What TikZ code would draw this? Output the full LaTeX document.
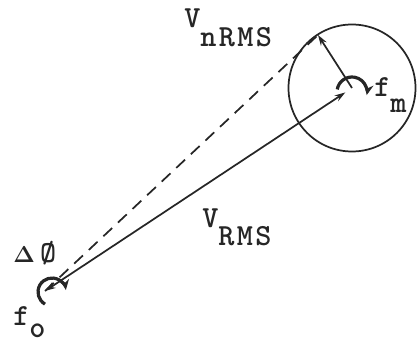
\documentclass[tikz,border=0pt]{standalone}
\usepackage{fontspec}
\newfontfamily\tw{Latin Modern Mono Light}[LetterSpace=8]
\usetikzlibrary{arrows.meta}
\begin{document}
\begin{tikzpicture}[x=0.75pt,y=-0.75pt,
  vec/.style={line width=1.3pt, draw=black!85},
  tip/.style={-{Stealth[length=8pt,width=5pt]}},
  spin/.style={line width=2.4pt, draw=black!85, -{Stealth[length=8pt,width=7pt]}},
  lbl/.style={inner sep=0pt, anchor=base west, font=\tw\bfseries\fontsize{23}{23}\selectfont, text=black!85}]
\useasboundingbox (0,0) rectangle (417,345);
\coordinate (O) at (45,291);
\coordinate (C) at (352,88);
\coordinate (P) at (318,35);
\node[draw=black!85, line width=1.3pt, circle, minimum size=127*0.75pt, inner sep=0pt] (ring) at (C) {};
\draw[vec, {Stealth[length=8pt,width=5pt]}-{Stealth[length=8pt,width=5pt]}, shorten >=6pt] (O) -- (C);
\draw[vec, dash pattern=on 9pt off 6pt] (O) -- (P);
\draw[vec, tip] (C) -- (P);
\draw[spin] (352,92) ++(190:15) arc[start angle=190, end angle=372, radius=15];
\draw[spin] (52,292) ++(120:14) arc[start angle=120, end angle=352, radius=14];
\node[lbl] (vn) at (184,28) {V\raisebox{-14pt}{nRMS}};
\node[lbl] (vr) at (202,228) {V\raisebox{-13pt}{RMS}};
\node[lbl] (fm) at (374,97) {f\raisebox{-12pt}{m}};
\node[lbl] (dp) at (13,262) {{\fontsize{17}{17}\selectfont\boldmath$\Delta$}\hspace{4pt}Ø};
\node[lbl] (fo) at (13,325) {f\raisebox{-9pt}{o}};
\end{tikzpicture}
\end{document}
